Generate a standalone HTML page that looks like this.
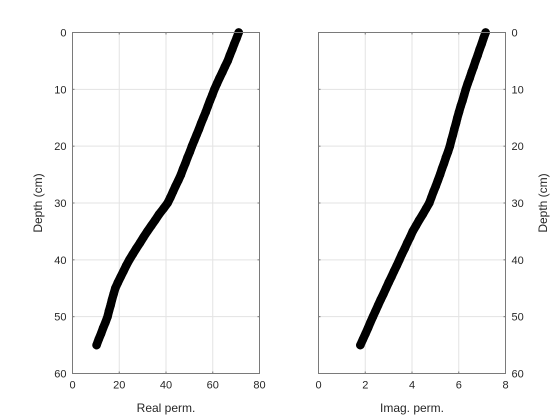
<!DOCTYPE html>
<html><head><meta charset="utf-8"><style>
html,body{margin:0;padding:0;background:#fff;}
svg{display:block;font-family:"Liberation Sans",Arial,sans-serif;}
</style></head><body>
<svg id="chart" width="560" height="420" viewBox="0 0 560 420"></svg>
<script>
const depths = [0,1,2,3,4,5,6,7,8,9,10,11,12,13,14,15,16,17,18,19,20,21,22,23,24,25,26,27,28,29,30,31,32,33,34,35,36,37,38,39,40,41,42,43,44,45,46,47,48,49,50,51,52,53,54,55];
const realPerm = [71.1,70.2,69.2,68.3,67.3,66.4,65.2,64.1,62.9,61.8,60.7,59.8,58.8,57.9,57.0,56.0,55.0,54.1,53.1,52.1,51.1,50.2,49.2,48.3,47.3,46.4,45.3,44.1,43.0,41.9,40.7,38.9,37.0,35.4,33.7,32.0,30.4,28.9,27.3,25.8,24.3,23.0,21.8,20.6,19.4,18.3,17.6,16.9,16.3,15.6,15.0,14.1,13.1,12.2,11.2,10.3];
const imagPerm = [7.15,7.06,6.98,6.89,6.81,6.72,6.64,6.55,6.47,6.38,6.30,6.23,6.16,6.08,6.01,5.94,5.88,5.81,5.75,5.68,5.62,5.54,5.45,5.37,5.28,5.20,5.11,5.02,4.92,4.83,4.74,4.60,4.46,4.31,4.17,4.03,3.92,3.80,3.69,3.57,3.46,3.35,3.23,3.12,3.00,2.89,2.78,2.66,2.55,2.44,2.33,2.22,2.12,2.01,1.90,1.79];
const realTicks = [0,20,40,60,80];
const imagTicks = [0,2,4,6,8];
const depthTicks = [0,10,20,30,40,50,60];

const NS = "http://www.w3.org/2000/svg";
const svg = document.getElementById("chart");
function mk(tag, attrs, parent){
  const e = document.createElementNS(NS, tag);
  for (const k in attrs) e.setAttribute(k, attrs[k]);
  (parent||svg).appendChild(e);
  return e;
}
const Y0 = 32.5, Y1 = 373.5;
function yScale(d){ return Y0 + (d/60)*(Y1-Y0); }

function panel(opts){
  const {x0,x1,xmax,ticks,vals,label,side,name} = opts;
  const xs = v => x0 + (v/xmax)*(x1-x0);
  const g = mk("g", {});
  
  
  ticks.forEach(t=>{
    if (t>0 && t<xmax){
      const l = mk("line",{x1:xs(t),x2:xs(t),y1:Y0,y2:Y1,stroke:"#e3e3e3","stroke-width":1},g);
      
      
    }
  });
  depthTicks.forEach(t=>{
    if (t>0 && t<60){
      const l = mk("line",{x1:x0,x2:x1,y1:yScale(t),y2:yScale(t),stroke:"#e3e3e3","stroke-width":1},g);
      
      
    }
  });
  const pts = depths.map((d,i)=>xs(vals[i])+","+yScale(d)).join(" ");
  const pl = mk("polyline",{points:pts,fill:"none",stroke:"#000","stroke-width":8.5,"stroke-linejoin":"round","stroke-linecap":"round"},g);
  
  
  depths.forEach((d,i)=>{
    const c = mk("circle",{cx:xs(vals[i]),cy:yScale(d),r:3.5,fill:"none",stroke:"#000","stroke-width":1.5},g);
    
    
  });
  const b = mk("rect",{x:x0,y:Y0,width:x1-x0,height:Y1-Y0,fill:"none",stroke:"#7a7a7a","stroke-width":1},g);
  
  
  ticks.forEach(t=>{
    const x = xs(t);
    mk("line",{x1:x,x2:x,y1:Y1,y2:Y1-2,stroke:"#7a7a7a"},g);
    mk("line",{x1:x,x2:x,y1:Y0,y2:Y0+2,stroke:"#7a7a7a"},g);
    const tx = mk("text",{x:x,y:Y1+15,"text-anchor":"middle","font-size":"11","fill":"#262626"},g);
    tx.textContent = t;
    
    
  });
  depthTicks.forEach(t=>{
    const y = yScale(t);
    mk("line",{x1:x0,x2:x0+2,y1:y,y2:y,stroke:"#7a7a7a"},g);
    mk("line",{x1:x1,x2:x1-2,y1:y,y2:y,stroke:"#7a7a7a"},g);
    const tx = side==="left"
      ? mk("text",{x:x0-6,y:y+4,"text-anchor":"end","font-size":"11","fill":"#262626"},g)
      : mk("text",{x:x1+6,y:y+4,"text-anchor":"start","font-size":"11","fill":"#262626"},g);
    tx.textContent = t;
    
    
  });
  const xl = mk("text",{x:(x0+x1)/2,y:412,"text-anchor":"middle","font-size":"12","fill":"#262626"},g);
  xl.textContent = label;
  
  
  const yx = side==="left" ? 42 : 547;
  const yl = mk("text",{x:yx,y:(Y0+Y1)/2,"text-anchor":"middle","font-size":"12","fill":"#262626",transform:`rotate(-90 ${yx} ${(Y0+Y1)/2})`},g);
  yl.textContent = "Depth (cm)";
  
  
}
panel({x0:72.5,x1:259.5,xmax:80,ticks:realTicks,vals:realPerm,label:"Real perm.",side:"left",name:"real-perm-panel"});
panel({x0:318.5,x1:505.5,xmax:8,ticks:imagTicks,vals:imagPerm,label:"Imag. perm.",side:"right",name:"imag-perm-panel"});
</script>
</body></html>
